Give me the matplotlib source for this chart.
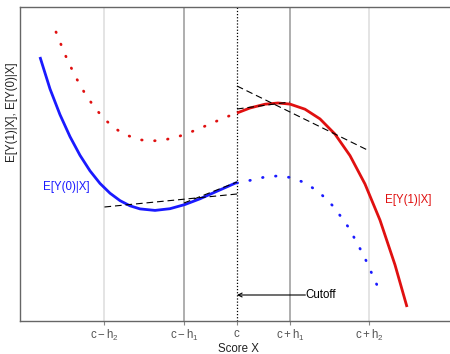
import matplotlib
matplotlib.use("Agg")
import matplotlib.pyplot as plt

plt.rcParams['font.family'] = ['Liberation Sans', 'DejaVu Sans']
plt.rcParams['mathtext.fontset'] = 'custom'
plt.rcParams['mathtext.rm'] = 'Liberation Sans'
plt.rcParams['mathtext.it'] = 'Liberation Sans'

# x in units where c = 0, h1 = 1, h2 = 2.5
c, h1, h2 = 0.0, 1.0, 2.5
tick_pos = [c - h2, c - h1, c, c + h1, c + h2]
tick_labels = [r'$\mathrm{c-h_2}$', r'$\mathrm{c-h_1}$', r'$\mathrm{c}$',
               r'$\mathrm{c+h_1}$', r'$\mathrm{c+h_2}$']

# E[Y(0)|X] observed (left of cutoff)
y0_obs_x = [-3.717, -3.528, -3.340, -3.151, -2.962, -2.774, -2.585, -2.396, -2.208,
            -2.019, -1.830, -1.547, -1.264, -0.981, -0.698, -0.415, 0.0]
y0_obs_y = [264, 232.1, 206.4, 184.4, 165.7, 150.2, 137.6, 127.8, 120.4,
            115.2, 112.1, 110.6, 112.3, 116.5, 122.2, 128.9, 138.6]
# E[Y(0)|X] counterfactual (right of cutoff)
y0_cf_x = [0.0, 0.245, 0.528, 0.755, 0.981, 1.264, 1.547, 1.830, 2.113, 2.396, 2.717]
y0_cf_y = [138, 140.6, 144, 145, 143.7, 138.7, 129, 114, 93, 65, 27]

# E[Y(1)|X] counterfactual (left of cutoff)
y1_cf_x = [-3.415, -3.245, -3.057, -2.868, -2.679, -2.491, -2.302, -2.113, -1.830,
           -1.604, -1.358, -1.075, -0.792, -0.509, -0.226, 0.0]
y1_cf_y = [289, 266.5, 245.2, 227.4, 212.9, 201.4, 192.6, 186.4, 181.2,
           180, 181.2, 185, 190.6, 197, 203.5, 208]
# E[Y(1)|X] observed (right of cutoff)
y1_obs_x = [0.0, 0.245, 0.528, 0.774, 1.0, 1.283, 1.566, 1.849, 2.132, 2.415, 2.698, 2.981, 3.208]
y1_obs_y = [208, 213, 216.8, 218, 216.9, 211.8, 202.1, 186.9, 165.4, 137, 100.9, 56.2, 14]

# local linear fits (dashed)
fit_red_h1_x, fit_red_h1_y = [0.0, 1.0], [212, 219]
fit_red_h2_x, fit_red_h2_y = [0.0, 2.5], [235, 170]
fit_blue_h1_x, fit_blue_h1_y = [-1.0, 0.0], [118, 139]
fit_blue_h2_x, fit_blue_h2_y = [-2.5, 0.0], [114, 127]

fig = plt.figure(figsize=(4.5, 3.54), dpi=100)
ax = fig.add_axes([20/450, 33/354, 430/450, 314/354])
ax.set_xlim(-4.094, 4.019)
ax.set_ylim(0, 314)

# vertical reference lines
for xv in [c - h2, c + h2]:
    ax.axvline(xv, color='#dddddd', lw=1.1, zorder=1)
for xv in [c - h1, c + h1]:
    ax.axvline(xv, color='#999999', lw=1.1, zorder=1)
ax.axvline(c, color='black', lw=0.9, ls=(0, (1, 1.5)), zorder=2)

blue = '#1a1aff'
red = '#e01010'
ax.plot(y0_obs_x, y0_obs_y, color=blue, lw=2.0, solid_capstyle='butt',
        solid_joinstyle='round', zorder=3)
ax.plot(y0_cf_x, y0_cf_y, color=blue, lw=2.0, ls=(0, (0.2, 4.5)),
        dash_capstyle='round', zorder=3)
ax.plot(y1_cf_x, y1_cf_y, color=red, lw=2.0, ls=(0, (0.2, 4.5)),
        dash_capstyle='round', zorder=3)
ax.plot(y1_obs_x, y1_obs_y, color=red, lw=2.0, solid_capstyle='butt',
        solid_joinstyle='round', zorder=3)

for fx, fy in [(fit_red_h1_x, fit_red_h1_y), (fit_red_h2_x, fit_red_h2_y),
               (fit_blue_h1_x, fit_blue_h1_y), (fit_blue_h2_x, fit_blue_h2_y)]:
    ax.plot(fx, fy, color='black', lw=0.8, ls=(0, (6, 3.5)), zorder=4)

ax.text(-3.66, 134, 'E[Y(0)|X]', color=blue, fontsize=8.3, ha='left', va='center')
ax.text(2.79, 121, 'E[Y(1)|X]', color=red, fontsize=8.3, ha='left', va='center')

ax.annotate('', xy=(0.0, 26), xytext=(1.29, 26),
            arrowprops=dict(arrowstyle='->', color='black', lw=0.8,
                            shrinkA=0, shrinkB=0, mutation_scale=7))
ax.text(1.29, 26, 'Cutoff', fontsize=8.3, ha='left', va='center', color='black')

ax.set_xticks(tick_pos)
ax.set_xticklabels(tick_labels, fontsize=8.3, color='#555555')
ax.tick_params(axis='x', length=3, color='#888888', pad=2)
ax.set_yticks([])
for s in ['left', 'top', 'bottom']:
    ax.spines[s].set_color('#666666')
    ax.spines[s].set_linewidth(1.0)
ax.spines['right'].set_visible(False)

fig.text(238/450, 5/354, 'Score X', fontsize=8.3, ha='center', va='center', color='#222222')
fig.text(12/450, 242/354, 'E[Y(1)|X], E[Y(0)|X]', fontsize=8.3, rotation=90,
         ha='center', va='center', color='#222222')

fig.savefig('out.png', dpi=100)
